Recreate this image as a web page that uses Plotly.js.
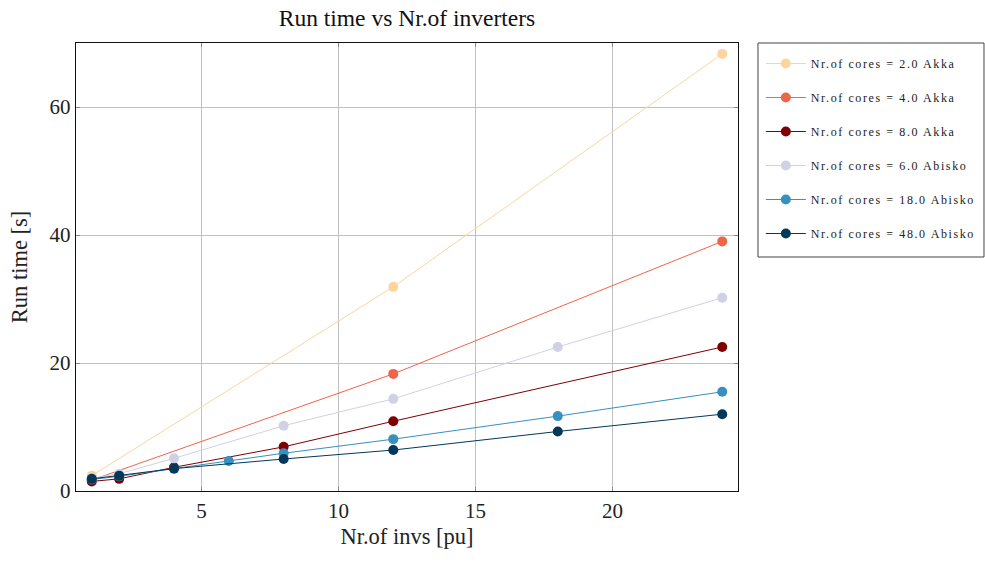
<!DOCTYPE html>
<html>
<head>
<meta charset="utf-8">
<script src="https://cdn.plot.ly/plotly-3.0.1.min.js"></script>
<style>html,body{margin:0;padding:0;background:#fff;}#chart{width:985px;height:563px;}
.legendtext{letter-spacing:1.6px;}</style>
</head>
<body>
<div id="chart"></div>
<script>
// Data
var names = ["Nr.of cores = 2.0 Akka", "Nr.of cores = 4.0 Akka", "Nr.of cores = 8.0 Akka",
             "Nr.of cores = 6.0 Abisko", "Nr.of cores = 18.0 Abisko", "Nr.of cores = 48.0 Abisko"];
var colors = ["#fdd49e", "#ef6548", "#7f0000", "#d0d1e6", "#3690c0", "#023858"];

var x_akka2 = [1, 12, 24];
var y_akka2 = [2.4, 31.9, 68.3];

var x_akka4 = [1, 12, 24];
var y_akka4 = [1.7, 18.3, 39.0];

var x_akka8 = [1, 2, 4, 8, 12, 24];
var y_akka8 = [1.5, 1.9, 3.7, 6.9, 10.9, 22.5];

var x_abisko6 = [1, 2, 4, 8, 12, 18, 24];
var y_abisko6 = [2.0, 2.7, 5.1, 10.2, 14.4, 22.5, 30.2];

var x_abisko18 = [1, 2, 4, 6, 8, 12, 18, 24];
var y_abisko18 = [1.8, 2.3, 3.5, 4.7, 5.9, 8.1, 11.7, 15.5];

var x_abisko48 = [1, 2, 4, 8, 12, 18, 24];
var y_abisko48 = [1.9, 2.4, 3.5, 5.0, 6.4, 9.3, 12.0];

var xs = [x_akka2, x_akka4, x_akka8, x_abisko6, x_abisko18, x_abisko48];
var ys = [y_akka2, y_akka4, y_akka8, y_abisko6, y_abisko18, y_abisko48];

var xTicks = [5, 10, 15, 20];
var yTicks = [0, 20, 40, 60];

var FONT = "Liberation Serif, DejaVu Serif, serif";
var LFONT = "Liberation Serif, serif";

var traces = names.map(function (n, i) {
  return {
    type: "scatter",
    mode: "lines+markers",
    name: n,
    legendgroup: "g" + i,
    x: xs[i],
    y: ys[i],
    line: {color: colors[i], width: 1},
    marker: {color: colors[i], size: 10}
  };
});

var layout = {
  width: 985,
  height: 563,
  paper_bgcolor: "#fff",
  plot_bgcolor: "#fff",
  margin: {l: 76, r: 247, t: 43, b: 72, autoexpand: false},
  font: {family: FONT, color: "#222"},
  title: {
    text: "Run time vs Nr.of inverters",
    font: {family: FONT, size: 23.5, color: "#111"},
    x: 0.5, xref: "paper", xanchor: "center",
    y: 0.968, yref: "container", yanchor: "middle"
  },
  xaxis: {
    range: [0.425, 24.575],
    tickvals: xTicks,
    ticktext: xTicks.map(String),
    showgrid: true,
    gridcolor: "#c0c0c0",
    gridwidth: 1,
    zeroline: false,
    showline: true,
    linecolor: "#111",
    linewidth: 1.3,
    mirror: "ticks",
    ticks: "inside",
    ticklen: 4,
    tickcolor: "#888",
    tickfont: {family: FONT, size: 21, color: "#222"},
    title: {text: "Nr.of invs [pu]", font: {family: FONT, size: 22.5, color: "#222"}, standoff: 6}
  },
  yaxis: {
    range: [0, 70],
    tickvals: yTicks,
    ticktext: yTicks.map(String),
    showgrid: true,
    gridcolor: "#c0c0c0",
    gridwidth: 1,
    zeroline: false,
    showline: true,
    linecolor: "#111",
    linewidth: 1.3,
    mirror: "ticks",
    ticks: "inside",
    ticklen: 4,
    tickcolor: "#888",
    tickfont: {family: FONT, size: 21, color: "#222"},
    title: {text: "Run time [s]", font: {family: FONT, size: 22.5, color: "#222"}, standoff: 15}
  },
  legend: {
    x: 1.0345, xanchor: "left",
    y: 0.9866, yanchor: "top",
    bgcolor: "rgba(0,0,0,0)",
    borderwidth: 0,
    font: {family: LFONT, size: 12, color: "#222"},
    tracegroupgap: 15,
    itemwidth: 40
  },
  shapes: [{
    type: "rect", xref: "paper", yref: "paper",
    x0: 1.0302, x1: 1.3716, y0: 0.5223, y1: 1,
    line: {color: "#444", width: 1},
    fillcolor: "rgba(0,0,0,0)",
    layer: "above"
  }],
  showlegend: true
};

Plotly.newPlot("chart", traces, layout, {displayModeBar: false, staticPlot: true});
</script>
</body>
</html>
